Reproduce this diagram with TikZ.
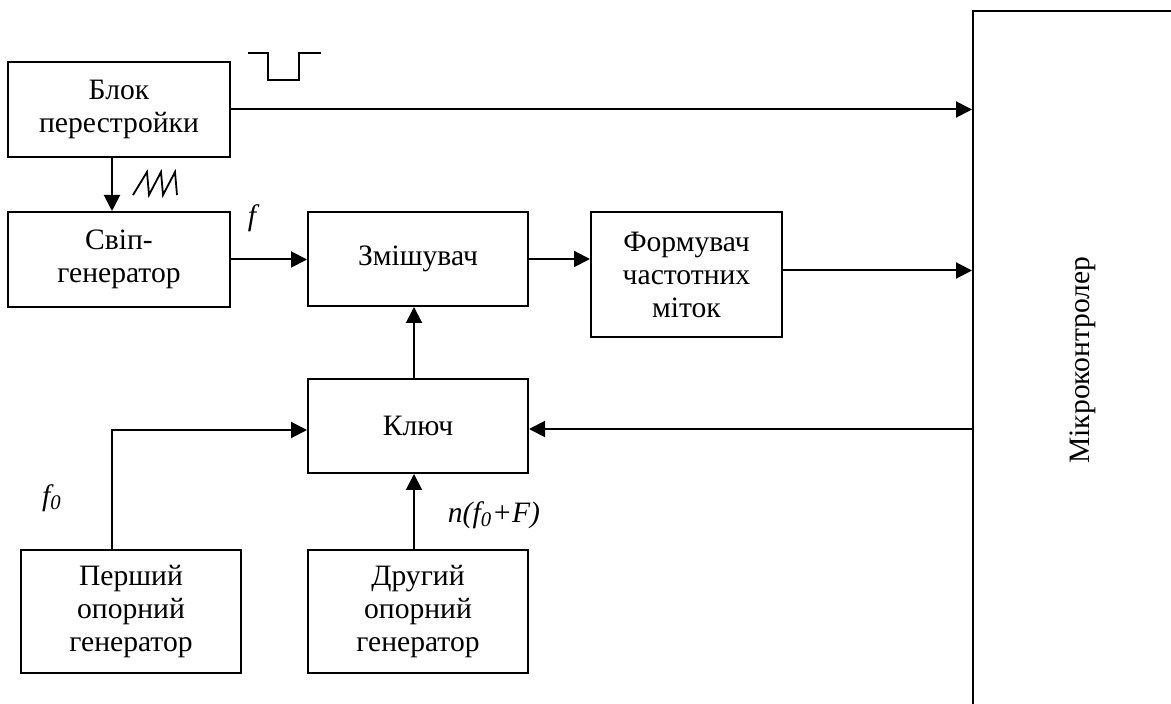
\documentclass[tikz,border=0pt]{standalone}
\usepackage{fontspec}
\setmainfont{Liberation Serif}
\usetikzlibrary{arrows.meta,calc}
\begin{document}
\begin{tikzpicture}[x=0.5pt,y=-0.5pt,
  every node/.style={font=\fontsize{14.8}{16.5}\selectfont},
  blk/.style={draw,line width=1pt,inner sep=0pt,align=center,anchor=center},
  conn/.style={line width=1pt,-{Triangle[length=8pt,width=8pt]}},
  wire/.style={line width=1pt},
  lbl/.style={inner sep=0pt,font=\fontsize{14.8}{16.5}\selectfont\itshape}]
\useasboundingbox (0,0) rectangle (1171,704);
\node[blk,minimum width=222*0.5pt,minimum height=95*0.5pt] (blok) at (119,109.5) {Блок\\перестройки};
\node[blk,minimum width=222*0.5pt,minimum height=95*0.5pt] (svip) at (119,259.5) {Свіп-\\генератор};
\node[blk,minimum width=220*0.5pt,minimum height=94*0.5pt] (zmish) at (418,259) {Змішувач};
\node[blk,minimum width=191*0.5pt,minimum height=125*0.5pt] (form) at (686.5,274.5) {Формувач\\частотних\\міток};
\node[blk,minimum width=220*0.5pt,minimum height=94*0.5pt] (kluch) at (418,426) {Ключ};
\node[blk,minimum width=220*0.5pt,minimum height=123*0.5pt] (pershyi) at (131,611.5) {Перший\\опорний\\генератор};
\node[blk,minimum width=220*0.5pt,minimum height=123*0.5pt] (druhyi) at (418,611.5) {Другий\\опорний\\генератор};
\node[blk,minimum width=220*0.5pt,minimum height=698*0.5pt] (mk) at (1083,360) {\rotatebox{90}{Мікроконтролер}};
% connectors
\draw[conn] (blok.east) -- (blok.east -| mk.west);
\draw[conn] ($(blok.south)+(-7,0)$) -- ($(svip.north)+(-7,0)$);
\draw[conn] (svip.east) -- (svip.east -| zmish.west);
\draw[conn] (zmish.east) -- (zmish.east -| form.west);
\draw[conn] ($(form.east)+(0,-4)$) -- ($(form.east -| mk.west)+(0,-4)$);
\draw[conn] ($(kluch.north)+(-4,0)$) -- ($(zmish.south)+(-4,0)$);
\draw[conn] ($(kluch.east -| mk.west)+(0,3)$) -- ($(kluch.east)+(0,3)$);
\draw[conn] ($(druhyi.north)+(-4,0)$) -- ($(kluch.south)+(-4,0)$);
\coordinate (c1) at (112,430);
\draw[conn] (c1 |- pershyi.north) -- (c1) -- (c1 -| kluch.west);
% labels
\node[lbl] (lf) at (252,218) {f};
\node[lbl] (lf0) at (52,498) {f\textsubscript{0}};
\node[lbl] (lnf) at (494,515) {n(f\textsubscript{0}+F)};
% signal shapes
\draw[line width=1pt] (248,53) -- (268,53) -- (268,80) -- (299,80) -- (299,53) -- (321,53);
\draw[line width=0.9pt] (133,195) -- (147,172) -- (149,195) -- (161,172) -- (163,195) -- (175,172) -- (177,195);
\end{tikzpicture}
\end{document}
